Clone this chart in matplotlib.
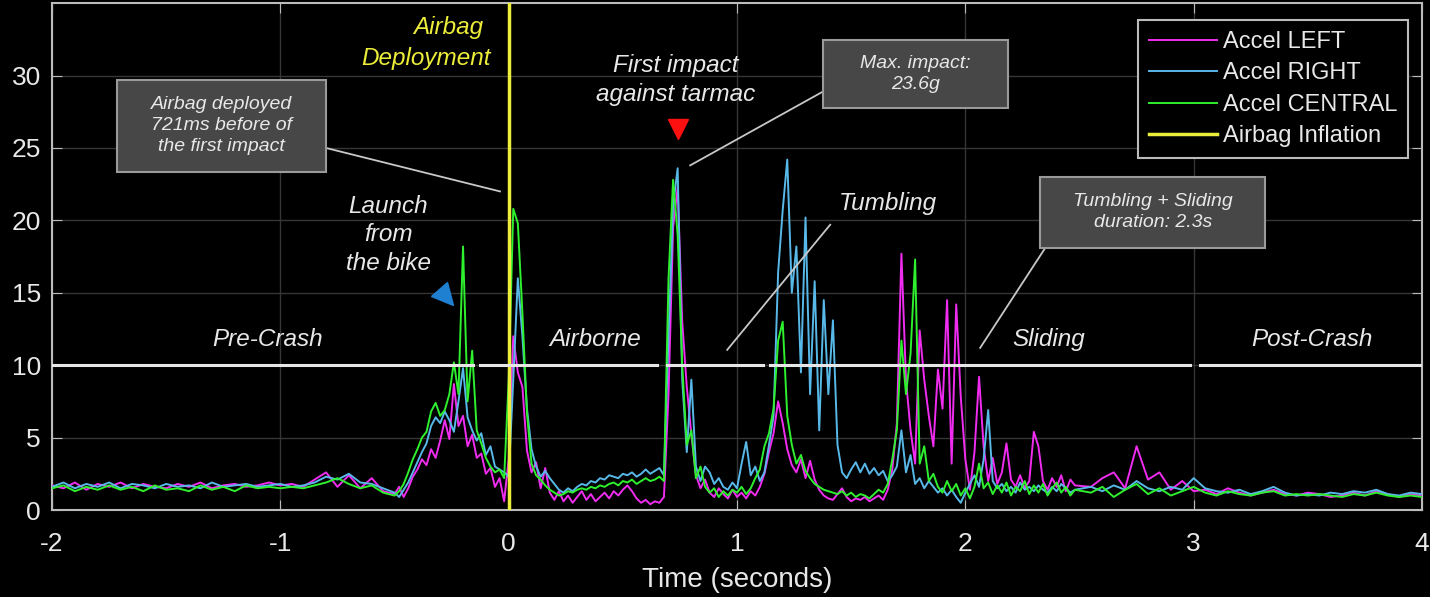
import numpy as np
import matplotlib
matplotlib.use("Agg")
import matplotlib.pyplot as plt
from matplotlib.patches import Rectangle
from matplotlib.markers import MarkerStyle
from matplotlib.transforms import Affine2D

plt.rcParams['font.family'] = ['Liberation Sans', 'DejaVu Sans']
plt.rcParams['axes.unicode_minus'] = False

# time grid: coarse before the crash, fine during it, coarse afterwards
t_pre = np.round(np.arange(-2.0, -0.549, 0.05), 3)    # 30 pts
t_mid = np.round(np.arange(-0.50, 2.481, 0.02), 3)    # 150 pts
t_post = np.round(np.arange(2.55, 4.001, 0.05), 3)    # 30 pts
time = np.concatenate([t_pre, t_mid, t_post])

# Accel LEFT (g)
left_pre = [1.7, 1.5, 1.9, 1.4, 1.8, 1.6, 1.9, 1.5, 1.8, 1.6,
            1.5, 1.8, 1.6, 1.9, 1.5, 1.7, 1.8, 1.6, 1.7, 1.9,
            1.7, 1.8, 1.6, 2.1, 2.6, 1.6, 2.4, 1.5, 2.2, 1.3]
left_mid = [1.1, 1.6, 0.9, 1.5, 2.3, 2.8, 3.5, 3.1, 4.2, 3.6,      # -0.50
            4.8, 6.2, 4.9, 8.7, 5.8, 6.5, 4.4, 5.2, 3.6, 3.9,      # -0.30
            2.5, 2.9, 1.6, 2.2, 0.6, 3.5, 12.0, 9.5, 8.5, 4.1,     # -0.10
            2.6, 3.3, 1.5, 2.9, 1.2, 0.7, 1.3, 0.6, 1.0, 0.5,      # 0.10
            0.9, 1.3, 0.7, 1.1, 0.6, 0.9, 1.2, 0.8, 1.3, 1.0,      # 0.30
            1.4, 1.7, 1.3, 0.8, 0.5, 0.7, 0.4, 0.6, 0.5, 0.9,      # 0.50
            8.0, 19.5, 22.3, 13.0, 8.5, 5.2, 2.4, 1.5, 2.1, 1.2,   # 0.70
            0.9, 1.5, 1.1, 0.8, 1.4, 0.9, 1.2, 0.8, 1.3, 1.0,      # 0.90
            1.6, 2.5, 4.0, 5.3, 7.5, 6.0, 4.2, 3.1, 2.6, 3.5,      # 1.10
            2.2, 3.4, 2.1, 1.4, 1.0, 0.8, 0.7, 1.1, 1.5, 0.9,      # 1.30
            0.6, 0.8, 0.7, 0.9, 0.6, 0.8, 1.0, 0.7, 1.4, 2.8,      # 1.50
            6.0, 17.7, 9.0, 5.5, 3.2, 12.4, 9.0, 6.5, 4.4, 9.7,    # 1.70
            7.0, 14.5, 3.2, 14.2, 7.8, 3.5, 1.4, 4.0, 9.2, 4.4,    # 1.90
            2.0, 3.6, 1.8, 2.6, 4.6, 2.1, 1.6, 2.4, 1.5, 2.0,      # 2.10
            5.4, 4.4, 2.0, 1.4, 2.2, 1.6, 2.4, 1.3, 2.1, 1.7]      # 2.30
left_post = [1.6, 2.2, 2.6, 1.5, 4.4, 2.1, 2.6, 1.4, 2.0, 1.3,
             1.4, 1.1, 1.5, 1.2, 1.0, 1.2, 1.4, 1.1, 1.0, 1.2,
             1.1, 0.9, 1.0, 1.2, 1.0, 1.3, 1.1, 0.9, 1.1, 1.0]

# Accel RIGHT (g)
right_pre = [1.6, 1.9, 1.5, 1.8, 1.6, 1.9, 1.5, 1.8, 1.7, 1.5,
             1.8, 1.6, 1.7, 1.5, 1.9, 1.6, 1.7, 1.8, 1.6, 1.7,
             1.8, 1.6, 1.7, 1.9, 2.3, 2.1, 2.5, 1.9, 1.8, 1.5]
right_mid = [1.2, 0.9, 1.4, 1.9, 2.6, 3.3, 4.0, 4.6, 5.8, 6.4,
             6.0, 6.8, 6.2, 5.4, 7.5, 9.8, 6.4, 5.5, 4.8, 5.3,
             3.8, 4.4, 3.0, 2.8, 2.6, 2.3, 9.0, 16.0, 12.0, 7.0,
             4.2, 3.0, 2.3, 2.7, 2.2, 1.8, 1.4, 1.2, 1.5, 1.3,
             1.6, 1.8, 1.7, 2.0, 1.9, 2.2, 2.1, 2.4, 2.3, 2.2,
             2.5, 2.4, 2.6, 2.3, 2.5, 2.8, 2.5, 2.7, 2.9, 2.4,
             12.0, 21.0, 23.6, 9.0, 4.0, 9.0, 3.0, 2.0, 3.0, 2.6,
             1.8, 2.2, 1.6, 1.4, 1.9, 1.5, 3.2, 4.7, 2.4, 3.0,
             2.0, 2.6, 4.5, 6.5, 16.4, 20.7, 24.2, 15.0, 18.2, 9.5,
             20.2, 8.0, 15.8, 5.5, 14.5, 8.0, 13.1, 4.5, 2.6, 2.2,
             2.8, 3.3, 2.6, 3.2, 2.5, 2.9, 2.4, 2.7, 2.0, 2.4,
             3.0, 5.5, 2.6, 3.8, 1.8, 2.2, 1.5, 2.0, 1.6, 1.2,
             1.5, 1.0, 1.4, 0.9, 0.5, 1.2, 1.8, 2.4, 1.6, 3.5,
             6.9, 2.0, 1.5, 1.8, 1.3, 1.6, 1.2, 1.9, 1.4, 1.6,
             1.3, 1.7, 1.4, 1.2, 1.6, 1.3, 1.8, 1.5, 1.2, 1.4]
right_post = [1.6, 1.3, 1.7, 1.4, 2.0, 1.5, 1.3, 1.6, 1.4, 2.2,
              1.5, 1.3, 1.2, 1.4, 1.1, 1.3, 1.6, 1.2, 1.0, 1.1,
              1.0, 1.2, 1.1, 1.3, 1.2, 1.4, 1.1, 1.0, 1.2, 1.1]

# Accel CENTRAL (g)
central_pre = [1.5, 1.7, 1.3, 1.6, 1.4, 1.7, 1.4, 1.6, 1.3, 1.7,
               1.4, 1.5, 1.3, 1.7, 1.4, 1.6, 1.3, 1.7, 1.5, 1.6,
               1.5, 1.6, 1.5, 1.7, 1.9, 2.2, 1.8, 1.5, 1.7, 1.2]
central_mid = [1.0, 1.3, 1.8, 2.6, 3.5, 4.2, 5.0, 5.4, 6.8, 7.4,
               6.5, 6.9, 8.0, 10.2, 8.0, 18.2, 7.5, 11.0, 5.5, 4.6,
               3.6, 3.0, 2.6, 2.8, 2.2, 9.0, 20.8, 19.8, 13.6, 6.7,
               3.2, 2.4, 2.1, 1.7, 1.4, 1.2, 1.0, 1.1, 1.3, 1.2,
               1.4, 1.5, 1.4, 1.6, 1.5, 1.7, 1.6, 1.8, 1.9, 1.7,
               2.0, 1.9, 2.1, 1.8, 2.0, 2.2, 2.0, 2.1, 2.3, 2.0,
               16.0, 22.8, 19.0, 10.0, 4.5, 5.5, 2.2, 3.0, 1.6, 1.2,
               1.5, 0.9, 1.3, 1.0, 1.4, 1.2, 1.6, 1.1, 1.5, 2.2,
               2.8, 4.4, 5.3, 7.0, 11.7, 13.0, 6.5, 4.5, 3.2, 3.8,
               2.7, 2.2, 1.8, 1.6, 1.4, 1.3, 1.2, 1.1, 1.3, 1.0,
               1.2, 0.9, 1.1, 1.0, 0.8, 1.1, 1.4, 1.2, 1.8, 3.5,
               5.5, 11.7, 8.0, 10.8, 17.3, 3.2, 4.4, 2.0, 2.5, 1.6,
               1.2, 2.0, 1.3, 1.8, 1.0, 1.5, 0.8, 1.6, 3.2, 1.5,
               1.9, 1.1, 1.7, 1.2, 1.9, 1.0, 1.6, 1.3, 2.0, 1.1,
               1.7, 1.2, 1.8, 1.0, 1.5, 1.9, 1.2, 1.6, 1.0, 1.4]
central_post = [1.2, 1.6, 0.9, 1.4, 1.8, 1.1, 1.5, 1.0, 1.3, 1.6,
                1.2, 1.0, 1.3, 1.1, 1.0, 1.2, 1.3, 1.0, 1.1, 1.0,
                1.1, 1.0, 0.9, 1.1, 1.0, 1.2, 1.0, 0.9, 1.0, 0.9]

acc_left = np.array(left_pre + left_mid + left_post)
acc_right = np.array(right_pre + right_mid + right_post)
acc_central = np.array(central_pre + central_mid + central_post)

# crash phases (white line at 10 g, with small gaps between phases)
phase_starts = [-2.0, -0.125, 0.694, 1.145, 3.028]
phase_ends = [-0.156, 0.65, 1.114, 2.985, 4.0]
phase_names = ["Pre-Crash", "Airborne", "Sliding", "Post-Crash"]
phase_label_x = [-1.054, 0.378, 2.363, 3.519]

C_LEFT = "#f02cf0"
C_RIGHT = "#58b8e8"
C_CENTRAL = "#2ef02e"
C_YELLOW = "#ecec3a"
TXT = "#e8e8e8"
GRID = "#363636"

fig = plt.figure(figsize=(14.3, 5.97), dpi=100, facecolor="black")
ax = fig.add_axes([0.0364, 0.1457, 0.958, 0.849], facecolor="black")

ax.plot(time, acc_left, color=C_LEFT, lw=1.4, label="Accel LEFT", zorder=3)
ax.plot(time, acc_right, color=C_RIGHT, lw=1.4, label="Accel RIGHT", zorder=4)
ax.plot(time, acc_central, color=C_CENTRAL, lw=1.4, label="Accel CENTRAL", zorder=5)
ax.axvline(0, color=C_YELLOW, lw=2.5, label="Airbag Inflation", zorder=6)

# phase line
for s, e in zip(phase_starts, phase_ends):
    ax.plot([s, e], [10, 10], color="#e6e6e6", lw=2.2, zorder=7)
for name, x in zip(phase_names, phase_label_x):
    ax.text(x, 11.8, name, color=TXT, fontsize=17.5, style="italic",
            ha="center", va="center", zorder=8)

ax.set_xlim(-2, 4)
ax.set_ylim(0, 35)
ax.set_xticks(range(-2, 5))
ax.set_yticks(range(0, 31, 5))
ax.grid(True, color=GRID, lw=1.0)
ax.set_axisbelow(True)
ax.tick_params(direction="in", length=7, color="#bbbbbb", labelcolor=TXT,
               labelsize=19, top=True, right=True)
ax.tick_params(axis="x", pad=16)
ax.tick_params(axis="y", pad=8)
for sp in ax.spines.values():
    sp.set_color("#bbbbbb")
    sp.set_linewidth(1.5)
ax.set_xlabel("Time (seconds)", color=TXT, fontsize=20, labelpad=8)

# text annotations
ax.text(-0.265, 33.3, "Airbag", color=C_YELLOW, fontsize=17.5,
        style="italic", ha="center", va="center", zorder=8)
ax.text(-0.362, 31.2, "Deployment", color=C_YELLOW, fontsize=17.5,
        style="italic", ha="center", va="center", zorder=8)
ax.text(-0.528, 19.0, "Launch\nfrom\nthe bike", color=TXT, fontsize=17.5,
        style="italic", ha="center", va="center", linespacing=1.3, zorder=8)
ax.text(0.733, 29.7, "First impact\nagainst tarmac", color=TXT, fontsize=17.5,
        style="italic", ha="center", va="center", linespacing=1.3, zorder=8)
ax.text(1.662, 21.2, "Tumbling", color=TXT, fontsize=17.5,
        style="italic", ha="center", va="center", zorder=8)

launch_marker = MarkerStyle("v", transform=Affine2D().rotate_deg(40))
ax.plot(-0.275, 14.7, marker=launch_marker, ms=15, color="#1f7fd0",
        ls="none", zorder=8)
ax.plot(0.742, 26.3, marker="v", ms=15, color="#ff1010", ls="none", zorder=8)

# grey callout boxes
boxes = [
    ((-1.715, 23.36), 0.915, 6.36, "Airbag deployed\n721ms before of\nthe first impact"),
    ((1.377, 27.78), 0.81, 4.70, "Max. impact:\n23.6g"),
    ((2.328, 18.10), 0.985, 4.90, "Tumbling + Sliding\nduration: 2.3s"),
]
for (x0, y0), w, h, txt in boxes:
    ax.add_patch(Rectangle((x0, y0), w, h, facecolor="#474747",
                           edgecolor="#9a9a9a", lw=1.5, zorder=9))
    ax.text(x0 + w / 2, y0 + h / 2, txt, color=TXT, fontsize=14,
            style="italic", ha="center", va="center", linespacing=1.3, zorder=10)

leaders = [
    ((-0.80, 25.0), (-0.038, 22.0)),
    ((1.377, 28.9), (0.795, 23.8)),
    ((2.35, 18.1), (2.065, 11.2)),
    ((1.408, 19.7), (0.957, 11.06)),
]
for (x1, y1), (x2, y2) in leaders:
    ax.plot([x1, x2], [y1, y2], color="#c8c8c8", lw=1.3, zorder=8)

leg = ax.legend(loc="upper right", bbox_to_anchor=(0.9898, 0.966), fontsize=17,
                facecolor="black", edgecolor="#bbbbbb", framealpha=1,
                fancybox=False, handlelength=2.9, labelspacing=0.4,
                borderpad=0.45, handletextpad=0.25, borderaxespad=0)
leg.get_frame().set_linewidth(1.5)
for t in leg.get_texts():
    t.set_color(TXT)
leg.set_zorder(11)

fig.savefig("out.png", dpi=100, facecolor="black")
